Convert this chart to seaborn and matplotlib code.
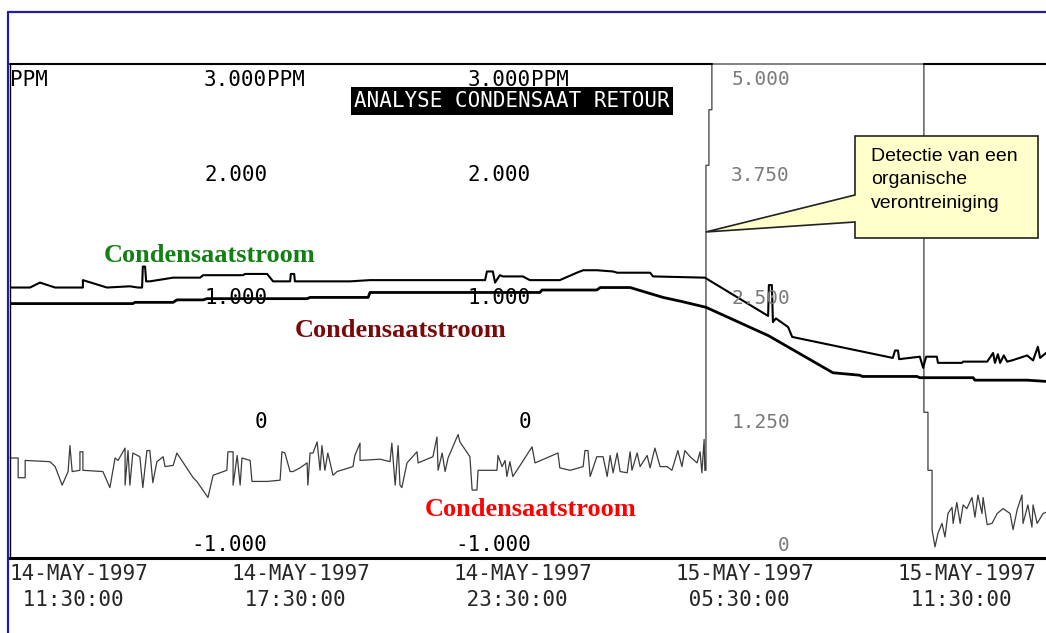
import matplotlib
matplotlib.use("Agg")
import matplotlib.pyplot as plt
import pandas as pd
import seaborn as sns
from matplotlib.patches import Polygon
from matplotlib.lines import Line2D

# ---------------- data (time in hours since 14-MAY-1997 11:30:00, left scale PPM) ----
upper_t = [0.00, 0.54, 0.81, 1.22, 1.97, 1.97, 2.62, 3.24, 3.46, 3.57,
           3.59, 3.65, 3.68, 3.78, 4.41, 5.14, 5.22, 6.30, 6.35, 6.95,
           7.11, 7.57, 7.59, 7.68, 7.70, 9.19, 9.73, 12.84, 12.89, 13.05,
           13.11, 13.24, 13.32, 13.86, 14.05, 14.86, 15.32, 15.49, 15.86, 16.30,
           16.41, 17.30, 17.38, 18.78, 20.49, 20.51, 20.59, 20.62, 20.70, 21.03,
           21.14, 23.86, 23.92, 24.00, 24.03, 24.59, 24.68, 24.76, 25.05, 25.08,
           25.73, 25.76, 26.41, 26.57, 26.62, 26.70, 26.76, 26.86, 26.95, 27.08,
           27.49, 27.65, 27.78, 27.84, 28.00]
upper_v = [1.19, 1.19, 1.23, 1.19, 1.19, 1.25, 1.19, 1.20, 1.19, 1.19,
           1.36, 1.36, 1.24, 1.24, 1.27, 1.27, 1.29, 1.29, 1.30, 1.30,
           1.24, 1.24, 1.30, 1.30, 1.24, 1.24, 1.25, 1.25, 1.32, 1.32,
           1.23, 1.29, 1.28, 1.28, 1.25, 1.25, 1.31, 1.33, 1.33, 1.32,
           1.31, 1.31, 1.28, 1.27, 0.96, 1.21, 1.21, 0.91, 0.94, 0.87,
           0.79, 0.62, 0.68, 0.68, 0.61, 0.63, 0.54, 0.63, 0.63, 0.58,
           0.58, 0.59, 0.59, 0.66, 0.58, 0.65, 0.58, 0.64, 0.59, 0.60,
           0.64, 0.60, 0.71, 0.62, 0.66]

lower_t = [0.00, 3.32, 3.38, 4.41, 4.51, 5.22, 5.32, 8.03, 8.11, 9.68,
           9.73, 14.32, 14.38, 15.86, 15.95, 16.76, 17.65, 18.11, 18.81, 20.50,
           22.24, 22.97, 23.03, 24.51, 24.59, 26.03, 26.08, 27.49, 28.00]
lower_v = [1.06, 1.06, 1.07, 1.07, 1.09, 1.09, 1.10, 1.10, 1.11, 1.11,
           1.15, 1.15, 1.17, 1.17, 1.19, 1.19, 1.11, 1.08, 1.03, 0.80,
           0.50, 0.48, 0.47, 0.47, 0.46, 0.46, 0.44, 0.44, 0.43]

noisy_t = [0.00, 0.22, 0.22, 0.41, 0.41, 1.08, 1.22, 1.41, 1.57, 1.62,
           1.68, 1.89, 1.89, 1.97, 1.97, 2.51, 2.70, 2.84, 2.92, 3.11,
           3.11, 3.19, 3.24, 3.32, 3.51, 3.59, 3.70, 3.78, 3.86, 3.97,
           4.14, 4.19, 4.41, 4.51, 4.95, 5.05, 5.35, 5.49, 5.86, 5.89,
           6.03, 6.03, 6.14, 6.22, 6.27, 6.49, 6.54, 6.95, 7.30, 7.35,
           7.43, 7.57, 7.65, 7.84, 8.03, 8.05, 8.11, 8.19, 8.30, 8.38,
           8.43, 8.51, 8.59, 8.73, 8.84, 9.27, 9.32, 9.46, 9.46, 10.00,
           10.27, 10.32, 10.41, 10.49, 10.54, 10.59, 10.73, 11.00, 11.03, 11.43,
           11.54, 11.57, 11.68, 11.76, 11.84, 12.11, 12.16, 12.43, 12.49, 12.62,
           12.65, 13.16, 13.19, 13.30, 13.38, 13.43, 13.51, 13.59, 13.70, 14.11,
           14.19, 14.81, 14.86, 15.14, 15.49, 15.54, 15.62, 15.68, 15.86, 16.03,
           16.14, 16.22, 16.30, 16.41, 16.49, 16.68, 16.76, 16.81, 16.95, 17.03,
           17.22, 17.30, 17.43, 17.57, 17.76, 17.89, 18.05, 18.16, 18.24, 18.38,
           18.57, 18.65, 18.70, 18.76, 18.78, 18.81, 18.81, 18.81, 18.89, 18.89,
           18.97, 18.97, 24.70, 24.70, 24.81, 24.81, 24.92, 24.92, 25.00, 25.08,
           25.19, 25.27, 25.35, 25.46, 25.49, 25.59, 25.68, 25.76, 25.86, 26.00,
           26.08, 26.16, 26.27, 26.30, 26.41, 26.54, 26.68, 26.84, 27.03, 27.11,
           27.22, 27.35, 27.38, 27.51, 27.62, 27.65, 27.76, 27.92, 28.00]
noisy_v = [-0.19, -0.19, -0.35, -0.35, -0.21, -0.22, -0.26, -0.41, -0.30, -0.09,
           -0.30, -0.29, -0.14, -0.14, -0.29, -0.30, -0.43, -0.19, -0.21, -0.11,
           -0.41, -0.13, -0.41, -0.15, -0.18, -0.43, -0.13, -0.13, -0.39, -0.22,
           -0.18, -0.26, -0.25, -0.15, -0.35, -0.38, -0.51, -0.33, -0.29, -0.14,
           -0.14, -0.41, -0.17, -0.41, -0.19, -0.21, -0.38, -0.38, -0.37, -0.14,
           -0.15, -0.30, -0.30, -0.27, -0.23, -0.41, -0.15, -0.15, -0.06, -0.29,
           -0.09, -0.29, -0.15, -0.33, -0.30, -0.26, -0.17, -0.07, -0.21, -0.20,
           -0.22, -0.07, -0.41, -0.09, -0.41, -0.43, -0.23, -0.14, -0.23, -0.18,
           -0.02, -0.29, -0.15, -0.30, -0.19, 0.00, -0.06, -0.18, -0.45, -0.45,
           -0.29, -0.29, -0.17, -0.26, -0.21, -0.34, -0.22, -0.34, -0.29, -0.10,
           -0.23, -0.15, -0.27, -0.29, -0.26, -0.13, -0.13, -0.34, -0.18, -0.18,
           -0.34, -0.17, -0.31, -0.15, -0.30, -0.31, -0.14, -0.29, -0.15, -0.26,
           -0.17, -0.27, -0.11, -0.26, -0.26, -0.29, -0.13, -0.26, -0.13, -0.18,
           -0.23, -0.14, -0.31, -0.04, -0.29, -0.29, 1.64, 2.18, 2.18, 2.63,
           2.63, 3.00, 3.00, 0.18, 0.18, -0.29, -0.29, -0.77, -0.91, -0.80,
           -0.72, -0.83, -0.64, -0.59, -0.72, -0.55, -0.72, -0.57, -0.60, -0.51,
           -0.67, -0.49, -0.64, -0.51, -0.73, -0.72, -0.64, -0.60, -0.64, -0.77,
           -0.61, -0.49, -0.72, -0.57, -0.75, -0.57, -0.72, -0.64, -0.63]

tick_hours = [0, 6, 12, 18, 24]
tick_labels = ["14-MAY-1997\n 11:30:00", "14-MAY-1997\n 17:30:00",
               "14-MAY-1997\n 23:30:00", "15-MAY-1997\n 05:30:00",
               "15-MAY-1997\n 11:30:00"]
left_scale_values = [-1, 0, 1, 2, 3]
left_scale_labels = ["-1.000", "0", "1.000", "2.000", "3.000"]
right_scale_labels = ["0", "1.250", "2.500", "3.750", "5.000"]
unit = "PPM"
series_name = "Condensaatstroom"
title = "ANALYSE CONDENSAAT RETOUR"
callout_text = "Detectie van een\norganische\nverontreiniging"

# ---------------- figure ----------------
sns.set_style("white")
plt.rcParams["font.family"] = ["DejaVu Sans Mono"]

W, H = 1046, 633
fig = plt.figure(figsize=(W / 100, H / 100), dpi=100)
fx = lambda x: x / W
fy = lambda y: 1 - y / H

ax = fig.add_axes([fx(10), fy(558), 1 - fx(10), (558 - 64) / H])

df_noisy = pd.DataFrame({"t": noisy_t, "v": noisy_v})
df_upper = pd.DataFrame({"t": upper_t, "v": upper_v})
df_lower = pd.DataFrame({"t": lower_t, "v": lower_v})

sns.lineplot(data=df_noisy, x="t", y="v", estimator=None, sort=False, ax=ax,
             color="#3c3c3c", lw=0.9, legend=False, clip_on=False)
sns.lineplot(data=df_upper, x="t", y="v", estimator=None, sort=False, ax=ax,
             color="black", lw=1.5, legend=False)
sns.lineplot(data=df_lower, x="t", y="v", estimator=None, sort=False, ax=ax,
             color="black", lw=2.0, legend=False)

ax.set_xlim(0, 28)
ax.set_ylim(-1, 3)
ax.set_xlabel("")
ax.set_ylabel("")
ax.set_yticks([])
ax.set_xticks(tick_hours)
ax.set_xticklabels(tick_labels, ha="left", fontsize=15, linespacing=1.4)
ax.tick_params(axis="x", length=0, pad=4)

for s in ["right", "top"]:
    ax.spines[s].set_visible(False)
ax.spines["bottom"].set_color("black")
ax.spines["bottom"].set_linewidth(2.2)
ax.spines["left"].set_color("black")
ax.spines["left"].set_linewidth(1.0)

# top frame line, interrupted where the trace is pegged at full scale
top = max(left_scale_values)
pegged = [t for t, v in zip(noisy_t, noisy_v) if v >= top]
ax.plot([0, pegged[0]], [top, top], color="black", lw=1.5, clip_on=False)
ax.plot([pegged[-1], 28], [top, top], color="black", lw=1.5, clip_on=False)


def scale_label(x, v, s, **kw):
    if v == top:
        ax.annotate(s, (x, v), xytext=(0, -4), textcoords="offset points",
                    va="top", **kw)
    else:
        ax.annotate(s, (x, v), xytext=(0, 2), textcoords="offset points",
                    va="bottom", **kw)


# in-chart scale labels
for col in [6.95, 14.08]:
    for v, s in zip(left_scale_values, left_scale_labels):
        scale_label(col, v, s, ha="right", fontsize=15, color="black")
    scale_label(col, top, unit, ha="left", fontsize=15, color="black")
for v, s in zip(left_scale_values, right_scale_labels):
    scale_label(21.08, v, s, ha="right", fontsize=14, color="#7a7a7a")
scale_label(0, top, unit, ha="left", fontsize=15, color="black")

# title plate
fig.text(fx(512), fy(101), title, ha="center", va="center", color="white",
         fontsize=15, bbox=dict(facecolor="black", edgecolor="none", pad=2.5))

# series labels
serif = dict(family="Liberation Serif", weight="bold", fontsize=19,
             ha="center", va="center")
fig.text(fx(210), fy(256), series_name, color="#128012", **serif)
fig.text(fx(401), fy(330), series_name, color="#7a0a0a", **serif)
fig.text(fx(531), fy(510), series_name, color="#ff0000", **serif)

# callout pointing at the jump of the noisy trace
fig.canvas.draw()
tip_disp = ax.transData.transform((noisy_t[136], noisy_v[136]))
tip = fig.transFigure.inverted().transform(tip_disp)
poly = [(fx(855), fy(136)), (fx(1038), fy(136)), (fx(1038), fy(238)),
        (fx(855), fy(238)), (fx(855), fy(222)), tuple(tip), (fx(855), fy(195))]
fig.patches.append(Polygon(poly, closed=True, transform=fig.transFigure,
                           facecolor="#ffffcc", edgecolor="#222222", lw=1.2,
                           zorder=5))
fig.text(fx(871), fy(148), callout_text, ha="left", va="top",
         family="Liberation Sans", fontsize=14, linespacing=1.5,
         color="black", zorder=6)

# blue slide frame
fig.lines.append(Line2D([fx(8), fx(8)], [fy(12), 0], transform=fig.transFigure,
                        color="#1f1fa0", lw=1.6))
fig.lines.append(Line2D([fx(8), 1], [fy(12), fy(12)], transform=fig.transFigure,
                        color="#1f1fa0", lw=1.6))

fig.savefig("out.png", dpi=100, facecolor="white")
